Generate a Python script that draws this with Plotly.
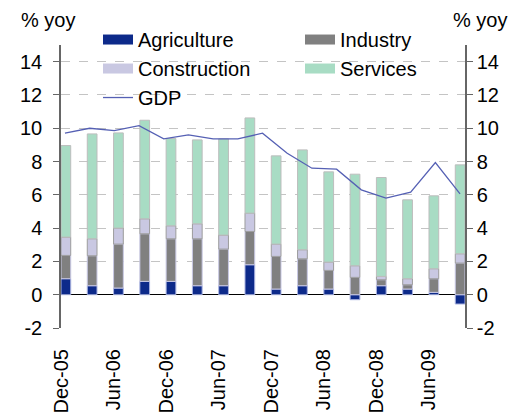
import plotly.graph_objects as go

# quarterly contributions to GDP growth (% yoy)
quarters = ["Dec-05", "Mar-06", "Jun-06", "Sep-06", "Dec-06", "Mar-07", "Jun-07", "Sep-07",
            "Dec-07", "Mar-08", "Jun-08", "Sep-08", "Dec-08", "Mar-09", "Jun-09", "Sep-09"]
agriculture = [0.96, 0.54, 0.40, 0.80, 0.80, 0.54, 0.54, 1.80,
               0.34, 0.54, 0.34, -0.30, 0.54, 0.34, 0.14, -0.56]
industry = [1.40, 1.80, 2.64, 2.86, 2.56, 2.82, 2.20, 2.00,
            1.96, 1.62, 1.12, 1.04, 0.36, 0.26, 0.82, 1.90]
construction = [1.10, 1.02, 0.96, 0.90, 0.78, 0.90, 0.84, 1.10,
                0.74, 0.54, 0.50, 0.70, 0.20, 0.36, 0.60, 0.56]
services = [5.50, 6.30, 5.72, 5.92, 5.24, 5.04, 5.78, 5.72,
            5.30, 6.00, 5.42, 5.50, 5.94, 4.74, 4.38, 5.34]

gdp_quarters = ["Sep-05"] + quarters
gdp = [9.70, 10.00, 9.86, 10.16, 9.36, 9.60, 9.36, 9.36, 9.70,
       8.50, 7.60, 7.54, 6.30, 5.80, 6.16, 7.94, 6.06]

tick_labels = quarters[::2]
y_ticks = list(range(-2, 15, 2))
y_ticktext = [str(v) for v in y_ticks]  # plain hyphen for "-2"

FONT = "Liberation Sans, Arial, sans-serif"
FS = 20
BAR_W = 0.37

xpos = list(range(len(quarters)))
tick_pos = [i - BAR_W / 2 for i in xpos[::2]]

fig = go.Figure()

series = [
    ("Agriculture", agriculture, "#0d2a8a", "#aab3e0"),
    ("Industry", industry, "#808080", "#c8c8e4"),
    ("Construction", construction, "#c9c8e2", "#9c9c9c"),
    ("Services", services, "#a8dcc4", "#bdbdbd"),
]
for name, vals, fill, edge in series:
    fig.add_trace(go.Bar(
        x=xpos, y=vals, name=name, width=BAR_W, legendgroup=name, showlegend=False,
        marker=dict(color=fill, line=dict(color=edge, width=1)),
        customdata=quarters, hovertemplate="%{customdata}: %{y}<extra>" + name + "</extra>",
    ))
    # legend-only entry: a thick short line gives the wide rectangular swatch of the original
    fig.add_trace(go.Scatter(
        x=[None], y=[None], name=name, legendgroup=name, mode="lines",
        line=dict(color=fill, width=10), hoverinfo="skip",
    ))

fig.add_trace(go.Scatter(
    x=list(range(len(gdp))), y=gdp, name="GDP", mode="lines",
    line=dict(color="#5560b4", width=1.3),
    xaxis="x2", yaxis="y2",
    customdata=gdp_quarters, hovertemplate="%{customdata}: %{y}<extra>GDP</extra>",
))

n = len(quarters)
fig.update_layout(
    width=521, height=418,
    margin=dict(l=61, r=56, t=45, b=90, autoexpand=False),
    paper_bgcolor="white", plot_bgcolor="white",
    barmode="relative",
    font=dict(family=FONT, size=FS, color="black"),
    xaxis=dict(
        range=[-BAR_W / 2, n - 1 + BAR_W / 2],
        tickvals=tick_pos, ticktext=tick_labels, tickangle=-90,
        ticks="", showline=False, showgrid=False, zeroline=False,
        ticklabelstandoff=16,
    ),
    xaxis3=dict(
        overlaying="x", matches="x", anchor="free", position=2 / 17,
        tickvals=tick_pos, showticklabels=False,
        ticks="outside", ticklen=6, tickcolor="black",
        showline=False, showgrid=False, zeroline=False,
    ),
    xaxis2=dict(
        overlaying="x", range=[-0.16, len(gdp) - 1 + 0.2], visible=False,
    ),
    yaxis=dict(
        range=[-2, 15], tickvals=y_ticks, ticktext=y_ticktext,
        showgrid=True, gridcolor="#c4c4c4", griddash="dash", gridwidth=1,
        zeroline=True, zerolinecolor="black", zerolinewidth=1.3,
        showline=True, linecolor="#666666", linewidth=1.5,
        ticks="outside", ticklen=6, tickcolor="#666666",
        ticklabelstandoff=7,
    ),
    yaxis2=dict(
        overlaying="y", side="right", range=[-2, 15], tickvals=y_ticks, ticktext=y_ticktext,
        showgrid=False, zeroline=False,
        showline=True, linecolor="#666666", linewidth=1.5,
        ticks="outside", ticklen=6, tickcolor="#666666",
        ticklabelstandoff=0,
    ),
    legend=dict(
        orientation="h", x=(98 - 61) / 404, y=(328.3 - 20) / 283.3,
        xanchor="left", yanchor="top",
        entrywidth=0.5, entrywidthmode="fraction",
        bgcolor="rgba(0,0,0,0)", borderwidth=0,
        font=dict(family=FONT, size=FS),
        traceorder="normal",
    ),
    showlegend=True,
    shapes=[dict(
        type="rect", xref="paper", yref="paper", layer="between",
        x0=(77 - 61) / 404, x1=(462 - 61) / 404,
        y0=(328.3 - 110) / 283.3, y1=1,
        fillcolor="white", line=dict(width=0),
    )],
    annotations=[
        dict(text="% yoy", xref="paper", yref="paper", x=(19 - 61) / 404, y=(328.3 - 7) / 283.3,
             xanchor="left", yanchor="top", showarrow=False, font=dict(size=FS)),
        dict(text="% yoy", xref="paper", yref="paper", x=(509 - 61) / 404, y=(328.3 - 7) / 283.3,
             xanchor="right", yanchor="top", showarrow=False, font=dict(size=FS)),
    ],
)

# drop the browser's default page margin so the figure sits at (0, 0)
fig.write_html("out.html", config={"displayModeBar": False},
               post_script="document.body.style.margin='0';")
